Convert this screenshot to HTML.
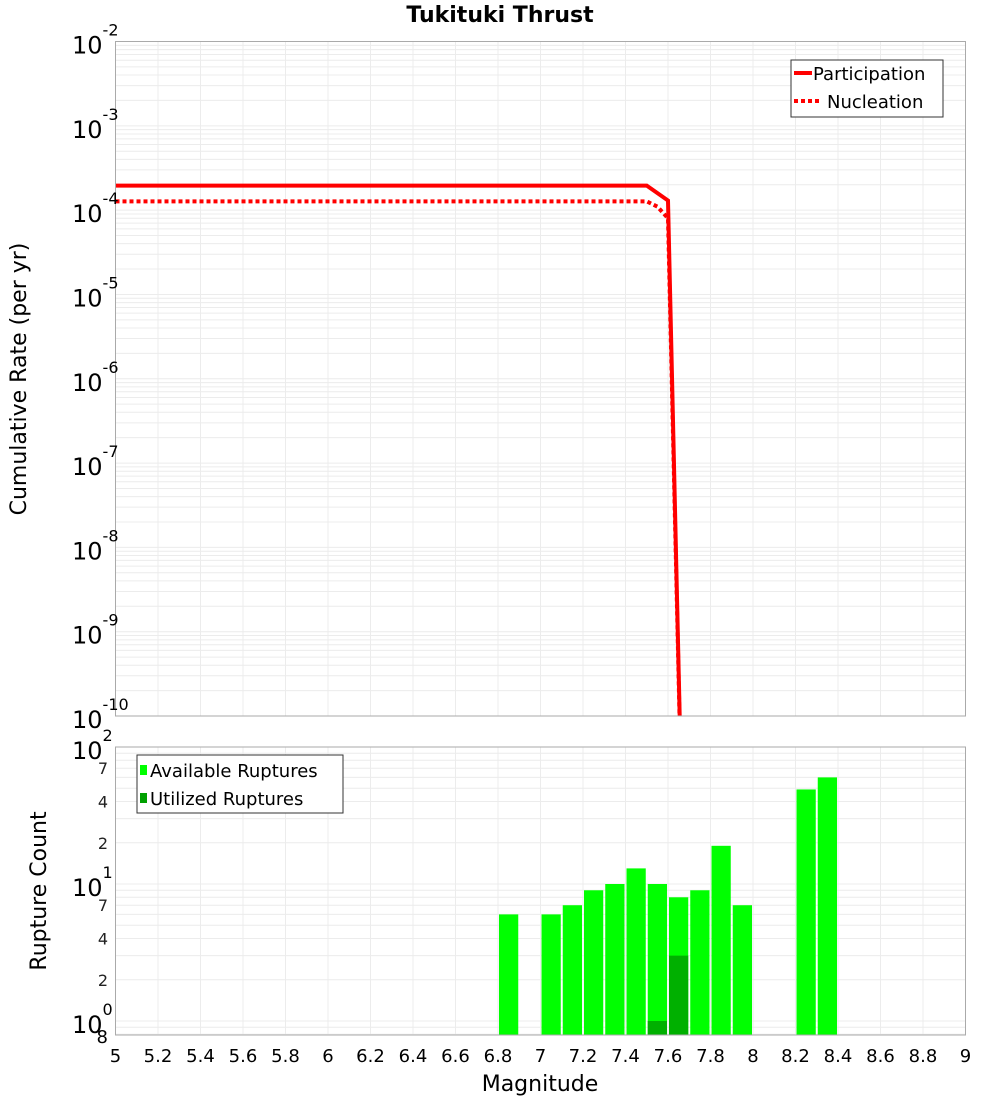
<!DOCTYPE html>
<html><head><meta charset="utf-8"><style>
body{margin:0;background:#fff;font-family:"DejaVu Sans","Liberation Sans",sans-serif}
svg text{font-family:"DejaVu Sans","Liberation Sans",sans-serif}
</style></head><body>
<svg id="c" width="1000" height="1100" xmlns="http://www.w3.org/2000/svg"></svg>
<script>
const partMag=[5.0,7.5,7.6,7.7];
const partRate=[1.95e-4,1.95e-4,1.3e-4,1e-15];
const nuclMag=[5.0,7.5,7.55,7.6,7.7];
const nuclRate=[1.27e-4,1.27e-4,1.1e-4,8e-5,1e-15];
const binMag=[6.85,7.05,7.15,7.25,7.35,7.45,7.55,7.65,7.75,7.85,7.95,8.25,8.35];
const availCount=[6,6,7,9,10,13,10,8,9,19,7,49,60];
const utilMag=[7.55,7.65];
const utilCount=[1,3];
const xTicks=[5,5.2,5.4,5.6,5.8,6,6.2,6.4,6.6,6.8,7,7.2,7.4,7.6,7.8,8,8.2,8.4,8.6,8.8,9];

const S=document.getElementById('c');const NS='http://www.w3.org/2000/svg';
function el(t,a,p){const e=document.createElementNS(NS,t);for(const k in a)e.setAttribute(k,a[k]);(p||S).appendChild(e);return e;}
const L=115.5,R=965.5;
const X=m=>L+(m-5)/4*(R-L);
const T1=41.5,B1=716;const Y1=v=>T1+(-2-Math.log10(v))/8*(B1-T1);
const T2=747,B2=1035;const dec2=137;const Y2=v=>T2+(2-Math.log10(v))*dec2;

// gridlines
const g=el('g',{});
for(let d=-10;d<-2;d++)for(let k=1;k<10;k++){const y=Y1(k*Math.pow(10,d));if(y>=T1&&y<=B1)el('line',{x1:L,x2:R,y1:y,y2:y,stroke:'#ececec','stroke-width':1},g);}
for(let d=-1;d<2;d++)for(let k=1;k<10;k++){const y=Y2(k*Math.pow(10,d));if(y>=T2&&y<=B2)el('line',{x1:L,x2:R,y1:y,y2:y,stroke:'#ececec','stroke-width':1},g);}
xTicks.forEach(m=>{el('line',{x1:X(m),x2:X(m),y1:T1,y2:B1,stroke:'#ececec'},g);el('line',{x1:X(m),x2:X(m),y1:T2,y2:B2,stroke:'#ececec'},g);});

// top lines
const clip=el('clipPath',{id:'cp1'});el('rect',{x:L,y:T1,width:R-L,height:B1-T1},clip);
function pts(ms,vs){return ms.map((m,i)=>X(m)+','+Y1(vs[i])).join(' ');}
const p1=el('polyline',{points:pts(partMag,partRate),fill:'none',stroke:'#ff0000','stroke-width':4,'clip-path':'url(#cp1)'});

const p2=el('polyline',{points:pts(nuclMag,nuclRate),fill:'none',stroke:'#ff0000','stroke-width':4,'stroke-dasharray':'4 3','clip-path':'url(#cp1)'});


// bars
binMag.forEach((m,i)=>{const y=Y2(availCount[i]);const b=el('rect',{x:X(m-0.05)+1,y:y,width:X(0.1+5)-L-2,height:B2-y,fill:'#00ff00'});
});
utilMag.forEach((m,i)=>{const y=Y2(utilCount[i]);const b=el('rect',{x:X(m-0.05)+1,y:y,width:X(0.1+5)-L-2,height:B2-y,fill:'#00b000'});
});

// frames
el('rect',{x:L,y:T1,width:R-L,height:B1-T1,fill:'none',stroke:'#aaa'});
el('rect',{x:L,y:T2,width:R-L,height:B2-T2,fill:'none',stroke:'#aaa'});

// y labels top
for(let d=-2;d>=-10;d--){const y=Y1(Math.pow(10,d));const t=el('text',{x:72,y:y+12,'font-size':24});t.textContent='10';
const s=el('tspan',{dy:-18,'font-size':16},t);s.textContent=String(d);}
// y labels bottom
[[2,'2'],[1,'1'],[0,'0']].forEach(([d,s])=>{const y=Y2(Math.pow(10,d));const t=el('text',{x:72,y:y+12,'font-size':24});t.textContent='10';
const sp=el('tspan',{dy:-18,'font-size':16},t);sp.textContent=s;});
[7,4,2,0.7,0.8].forEach(()=>{});
[70,40,20,7,4,2].forEach(v=>{const t=el('text',{x:108,y:Y2(v)+6,'font-size':16,'text-anchor':'end',fill:'#222'});t.textContent=String(v).charAt(0);});
{const t=el('text',{x:108,y:B2+8,'font-size':18,'text-anchor':'end'});t.textContent='8';}
// x labels
xTicks.forEach(m=>{const t=el('text',{x:X(m),y:1062,'font-size':18,'text-anchor':'middle'});t.textContent=String(m);
});

let t=el('text',{x:500,y:22,'font-size':22,'font-weight':'bold','text-anchor':'middle'});t.textContent='Tukituki Thrust';
t=el('text',{x:540,y:1091,'font-size':22,'text-anchor':'middle'});t.textContent='Magnitude';
t=el('text',{x:0,y:0,'font-size':22,'text-anchor':'middle',transform:'translate(26,379) rotate(-90)'});t.textContent='Cumulative Rate (per yr)';
t=el('text',{x:0,y:0,'font-size':22,'text-anchor':'middle',transform:'translate(46,891) rotate(-90)'});t.textContent='Rupture Count';

// legends
let lg=el('g',{});
el('rect',{x:791,y:60,width:152,height:57,fill:'#fff',stroke:'#333'},lg);
el('line',{x1:794,x2:812,y1:73,y2:73,stroke:'#f00','stroke-width':4},lg);
el('line',{x1:794,x2:822,y1:101,y2:101,stroke:'#f00','stroke-width':4,'stroke-dasharray':'4 3'},lg);
t=el('text',{x:813,y:80,'font-size':18},lg);t.textContent='Participation';
t=el('text',{x:827,y:108,'font-size':18},lg);t.textContent='Nucleation';
lg=el('g',{});
el('rect',{x:137,y:755,width:206,height:58,fill:'#fff',stroke:'#333'},lg);
el('rect',{x:140,y:765,width:7,height:10,fill:'#00ff00'},lg);
el('rect',{x:140,y:793,width:7,height:10,fill:'#00a000'},lg);
t=el('text',{x:150,y:777,'font-size':18},lg);t.textContent='Available Ruptures';
t=el('text',{x:150,y:805,'font-size':18},lg);t.textContent='Utilized Ruptures';
</script>
</body></html>
